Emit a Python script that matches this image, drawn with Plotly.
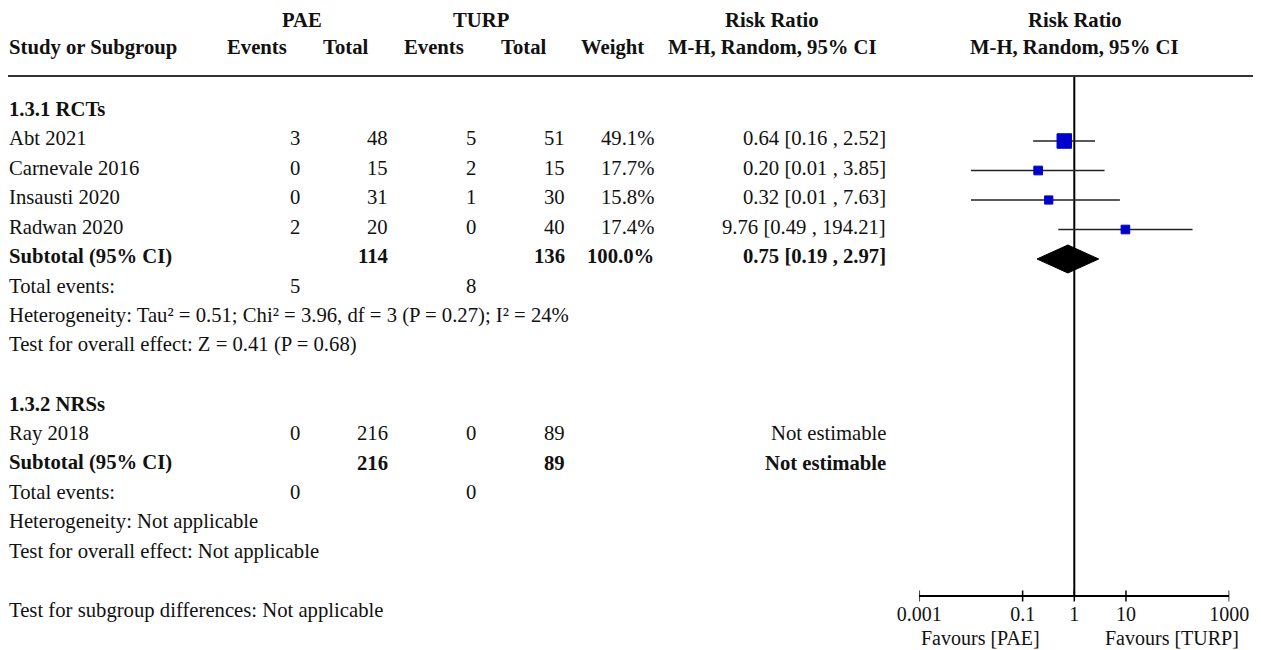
import plotly.graph_objects as go

# ---------------- data ----------------
rct_studies = ["Abt 2021", "Carnevale 2016", "Insausti 2020", "Radwan 2020"]
rct_pae_events = [3, 0, 0, 2]
rct_pae_total = [48, 15, 31, 20]
rct_turp_events = [5, 2, 1, 0]
rct_turp_total = [51, 15, 30, 40]
rct_weight = [49.1, 17.7, 15.8, 17.4]
rct_rr = [0.64, 0.20, 0.32, 9.76]
rct_lo = [0.16, 0.01, 0.01, 0.49]
rct_hi = [2.52, 3.85, 7.63, 194.21]

rct_sub_pae_total = 114
rct_sub_turp_total = 136
rct_sub_weight = 100.0
rct_sub_rr = 0.75
rct_sub_lo = 0.19
rct_sub_hi = 2.97
rct_events_pae = 5
rct_events_turp = 8
rct_het = "Heterogeneity: Tau² = 0.51; Chi² = 3.96, df = 3 (P = 0.27); I² = 24%"
rct_test = "Test for overall effect: Z = 0.41 (P = 0.68)"

nrs_studies = ["Ray 2018"]
nrs_pae_events = [0]
nrs_pae_total = [216]
nrs_turp_events = [0]
nrs_turp_total = [89]
nrs_sub_pae_total = 216
nrs_sub_turp_total = 89
nrs_events_pae = 0
nrs_events_turp = 0
nrs_het = "Heterogeneity: Not applicable"
nrs_test = "Test for overall effect: Not applicable"
subgroup_diff = "Test for subgroup differences: Not applicable"

tick_vals = [0.001, 0.1, 1, 10, 1000]
tick_text = ["0.001", "0.1", "1", "10", "1000"]
favours_left = "Favours [PAE]"
favours_right = "Favours [TURP]"

# ---------------- layout constants (target pixel positions) ----------------
W, H = 1261, 650
OX, OY = 8, 8          # page offset compensation
FONT = "Liberation Serif"
FS = 20.7
TXT = "#111111"
ROW0 = 141.0      # marker centre of first study row (px from top)
STEP = 29.5
TOFF = -3.0       # text centre offset from marker centre


def px(x):
    return (x - OX) / W


def py(y):
    return y - OY


def row_y(k):
    return ROW0 + STEP * k


# column right edges (px)
C_EV1, C_TOT1, C_EV2, C_TOT2, C_W, C_RR = 302, 390, 478, 567, 656, 888
X_STUDY = 7

ann = []


def text(x, y, s, anchor="left", bold=False, size=FS):
    ann.append(dict(x=px(x), y=py(y), xref="paper", yref="y",
                    text=("<b>%s</b>" % s) if bold else s,
                    showarrow=False, xanchor=anchor, yanchor="middle",
                    font=dict(family=FONT, size=size, color=TXT)))


# headers
HDR1, HDR2 = 20, 47
text(302, HDR1, "PAE", "center", True)
text(481, HDR1, "TURP", "center", True)
text(772, HDR1, "Risk Ratio", "center", True)
text(1075, HDR1, "Risk Ratio", "center", True)
text(X_STUDY, HDR2, "Study or Subgroup", "left", True)
text(257, HDR2, "Events", "center", True)
text(345, HDR2, "Total", "center", True)
text(434, HDR2, "Events", "center", True)
text(523, HDR2, "Total", "center", True)
text(612, HDR2, "Weight", "center", True)
text(773, HDR2, "M-H, Random, 95% CI", "center", True)
text(1074, HDR2, "M-H, Random, 95% CI", "center", True)

# RCT subgroup
k = -1
text(X_STUDY, row_y(k) + TOFF, "1.3.1 RCTs", "left", True)
rct_rows = []
for i, s in enumerate(rct_studies):
    k += 1
    y = row_y(k) + TOFF
    rct_rows.append(py(row_y(k)))
    text(X_STUDY, y, s)
    text(C_EV1, y, str(rct_pae_events[i]), "right")
    text(C_TOT1, y, str(rct_pae_total[i]), "right")
    text(C_EV2, y, str(rct_turp_events[i]), "right")
    text(C_TOT2, y, str(rct_turp_total[i]), "right")
    text(C_W, y, "%.1f%%" % rct_weight[i], "right")
    text(C_RR, y, "%.2f [%.2f , %.2f]" % (rct_rr[i], rct_lo[i], rct_hi[i]), "right")
k += 1
sub_y = py(row_y(k))
y = row_y(k) + TOFF
text(X_STUDY, y, "Subtotal (95% CI)", "left", True)
text(C_TOT1, y, str(rct_sub_pae_total), "right", True)
text(C_TOT2, y, str(rct_sub_turp_total), "right", True)
text(C_W, y, "%.1f%%" % rct_sub_weight, "right", True)
text(C_RR, y, "%.2f [%.2f , %.2f]" % (rct_sub_rr, rct_sub_lo, rct_sub_hi), "right", True)
k += 1
y = row_y(k) + TOFF
text(X_STUDY, y, "Total events:")
text(C_EV1, y, str(rct_events_pae), "right")
text(C_EV2, y, str(rct_events_turp), "right")
k += 1
text(X_STUDY, row_y(k) + TOFF, rct_het)
k += 1
text(X_STUDY, row_y(k) + TOFF, rct_test)

# NRS subgroup
k += 2
text(X_STUDY, row_y(k) + TOFF, "1.3.2 NRSs", "left", True)
for i, s in enumerate(nrs_studies):
    k += 1
    y = row_y(k) + TOFF
    text(X_STUDY, y, s)
    text(C_EV1, y, str(nrs_pae_events[i]), "right")
    text(C_TOT1, y, str(nrs_pae_total[i]), "right")
    text(C_EV2, y, str(nrs_turp_events[i]), "right")
    text(C_TOT2, y, str(nrs_turp_total[i]), "right")
    text(C_RR, y, "Not estimable", "right")
k += 1
y = row_y(k) + TOFF
text(X_STUDY, y, "Subtotal (95% CI)", "left", True)
text(C_TOT1, y, str(nrs_sub_pae_total), "right", True)
text(C_TOT2, y, str(nrs_sub_turp_total), "right", True)
text(C_RR, y, "Not estimable", "right", True)
k += 1
y = row_y(k) + TOFF
text(X_STUDY, y, "Total events:")
text(C_EV1, y, str(nrs_events_pae), "right")
text(C_EV2, y, str(nrs_events_turp), "right")
k += 1
text(X_STUDY, row_y(k) + TOFF, nrs_het)
k += 1
text(X_STUDY, row_y(k) + TOFF, nrs_test)
k += 2
text(X_STUDY, row_y(k) + TOFF, subgroup_diff)

# favours labels
text(980, 638, favours_left, "center", False, 20)
text(1172, 638, favours_right, "center", False, 20)

AXIS_Y = 596
LINE_TOP = 76
AX0, AX1 = 919.3, 1229.3

fig = go.Figure()

# vertical no-effect line
fig.add_trace(go.Scatter(x=[1, 1], y=[py(LINE_TOP), py(AXIS_Y)], mode="lines",
                         line=dict(color="#000000", width=2), hoverinfo="skip"))

# axis tick marks (crossing the axis line)
fig.add_trace(go.Scatter(x=tick_vals, y=[py(AXIS_Y)] * len(tick_vals), mode="markers",
                         marker=dict(symbol="line-ns-open", size=8, color="#000000",
                                     line=dict(color="#000000", width=1.5)),
                         hoverinfo="skip"))

# CI lines
cx, cy = [], []
for i in range(len(rct_rr)):
    cx += [rct_lo[i], rct_hi[i], None]
    cy += [rct_rows[i], rct_rows[i], None]
fig.add_trace(go.Scatter(x=cx, y=cy, mode="lines",
                         line=dict(color="#222222", width=1.6), hoverinfo="skip"))

# study squares (size by weight)
sizes = [14.5 * (w / max(rct_weight)) ** 0.5 for w in rct_weight]
fig.add_trace(go.Scatter(x=rct_rr, y=rct_rows, mode="markers",
                         marker=dict(symbol="square", size=sizes, color="#0000CC", opacity=1,
                                     line=dict(width=1, color="#0000CC")), hoverinfo="skip"))

# subtotal diamond
DH = 14
fig.add_trace(go.Scatter(x=[rct_sub_lo, rct_sub_rr, rct_sub_hi, rct_sub_rr, rct_sub_lo],
                         y=[sub_y, sub_y - DH, sub_y, sub_y + DH, sub_y],
                         mode="lines", fill="toself", fillcolor="#000000",
                         line=dict(color="#000000", width=1), hoverinfo="skip"))

# header rule
shapes = [dict(type="line", xref="paper", yref="y", x0=px(7), x1=1.0,
               y0=py(LINE_TOP), y1=py(LINE_TOP),
               line=dict(color="#333333", width=2))]

fig.update_layout(
    width=W, height=H,
    margin=dict(l=0, r=0, t=0, b=0, pad=0, autoexpand=False),
    paper_bgcolor="white", plot_bgcolor="white", showlegend=False,
    annotations=ann, shapes=shapes,
    xaxis=dict(type="log", range=[-3, 3], domain=[px(AX0), px(AX1)],
               anchor="free", position=(H - py(AXIS_Y)) / H, automargin=False,
               showline=True, linecolor="#000000", linewidth=1.5,
               ticks="", tickvals=tick_vals, ticktext=tick_text,
               tickfont=dict(family=FONT, size=20, color=TXT),
               showgrid=False, zeroline=False),
    yaxis=dict(range=[H, 0], domain=[0, 1], visible=False, automargin=False,
               showgrid=False, zeroline=False),
)

fig.write_html("out.html")
